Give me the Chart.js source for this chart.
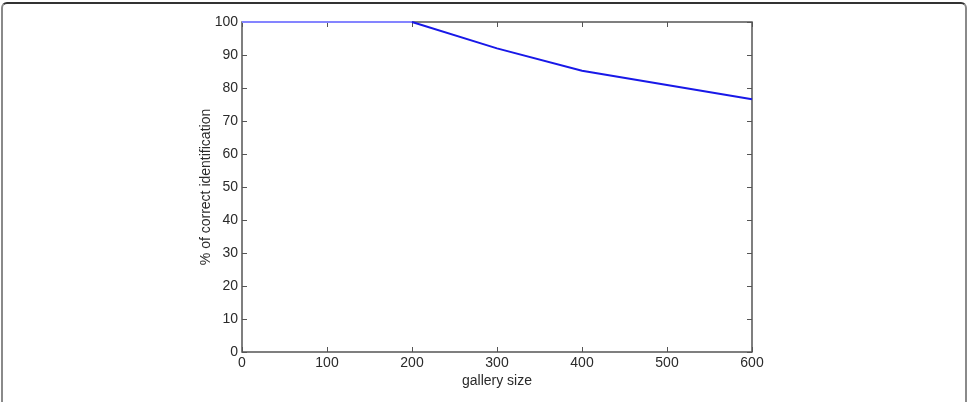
<!DOCTYPE html>
<html>
<head>
<meta charset="utf-8">
<script src="https://cdn.jsdelivr.net/npm/chart.js@4/dist/chart.umd.min.js"></script>
<style>
    html, body { margin: 0; padding: 0; background: #fff; }
    #wrap { position: relative; width: 976px; height: 402px; overflow: hidden; }
    #frame {
        position: absolute; left: 1px; top: 2px; width: 962px; height: 420px;
        border-top: 2px solid #333; border-left: 2px solid #8a8a8a; border-right: 2px solid #8a8a8a;
        border-radius: 6px 6px 0 0;
    }
    canvas { position: absolute; left: 0; top: 0; }
</style>
</head>
<body>
<div id="wrap">
    <div id="frame"></div>
    <canvas id="chart" width="976" height="402"></canvas>
</div>
<script>
const gallerySize = [0, 100, 200, 300, 400, 500, 600];
const correctPct = [100, 100, 100, 92, 85.2, 80.9, 76.6];
const xTicks = [0, 100, 200, 300, 400, 500, 600];
const yTicks = [0, 10, 20, 30, 40, 50, 60, 70, 80, 90, 100];

const axisColor = '#555';
const textColor = '#2a2a2a';
const font = { family: '"Liberation Sans", Arial, sans-serif', size: 14 };

// matlab style box with inward ticks on every side
const boxPlugin = {
    id: 'box',
    beforeDatasetsDraw(chart) {
        const { ctx, chartArea: a, scales } = chart;
        ctx.save();
        ctx.strokeStyle = axisColor;
        ctx.lineWidth = 1;
        ctx.beginPath();
        xTicks.forEach(v => {
            const x = Math.round(scales.x.getPixelForValue(v)) + 0.5;
            ctx.moveTo(x, a.bottom); ctx.lineTo(x, a.bottom - 5);
            ctx.moveTo(x, a.top); ctx.lineTo(x, a.top + 5);
        });
        yTicks.forEach(v => {
            const y = Math.round(scales.y.getPixelForValue(v)) + 0.5;
            ctx.moveTo(a.left, y); ctx.lineTo(a.left + 5, y);
            ctx.moveTo(a.right, y); ctx.lineTo(a.right - 5, y);
        });
        ctx.stroke();
        ctx.lineWidth = 1.5;
        ctx.strokeRect(a.left, a.top, a.right - a.left, a.bottom - a.top);
        ctx.restore();
    }
};

new Chart(document.getElementById('chart').getContext('2d'), {
    type: 'line',
    data: {
        datasets: [{
            data: gallerySize.map((g, i) => ({ x: g, y: correctPct[i] })),
            borderColor: '#1818e8',
            borderWidth: 2,
            pointRadius: 0,
            fill: false,
            tension: 0,
            clip: false,
            segment: {
                borderColor: c => (c.p0.parsed.y === 100 && c.p1.parsed.y === 100) ? '#8484ff' : undefined
            }
        }]
    },
    options: {
        responsive: false,
        animation: false,
        events: [],
        layout: { padding: { left: 190, right: 224, top: 22, bottom: 10 } },
        plugins: { legend: { display: false }, tooltip: { enabled: false } },
        scales: {
            x: {
                type: 'linear',
                min: 0, max: 600,
                afterBuildTicks: s => { s.ticks = xTicks.map(v => ({ value: v })); },
                afterFit: s => { s.height = 40; },
                grid: { display: false, drawTicks: false },
                border: { display: false },
                ticks: { color: textColor, font: font, padding: 3, maxRotation: 0 },
                title: { display: true, text: 'gallery size', color: textColor, font: font, padding: { top: 0, bottom: 2 } }
            },
            y: {
                min: 0, max: 100,
                afterBuildTicks: s => { s.ticks = yTicks.map(v => ({ value: v })); },
                afterFit: s => { s.width = 52; },
                grid: { display: false, drawTicks: false },
                border: { display: false },
                ticks: { color: textColor, font: font, padding: 4 },
                title: { display: true, text: '% of correct identification', color: textColor, font: font, padding: { top: 8, bottom: 0 } }
            }
        }
    },
    plugins: [boxPlugin]
});
</script>
</body>
</html>
